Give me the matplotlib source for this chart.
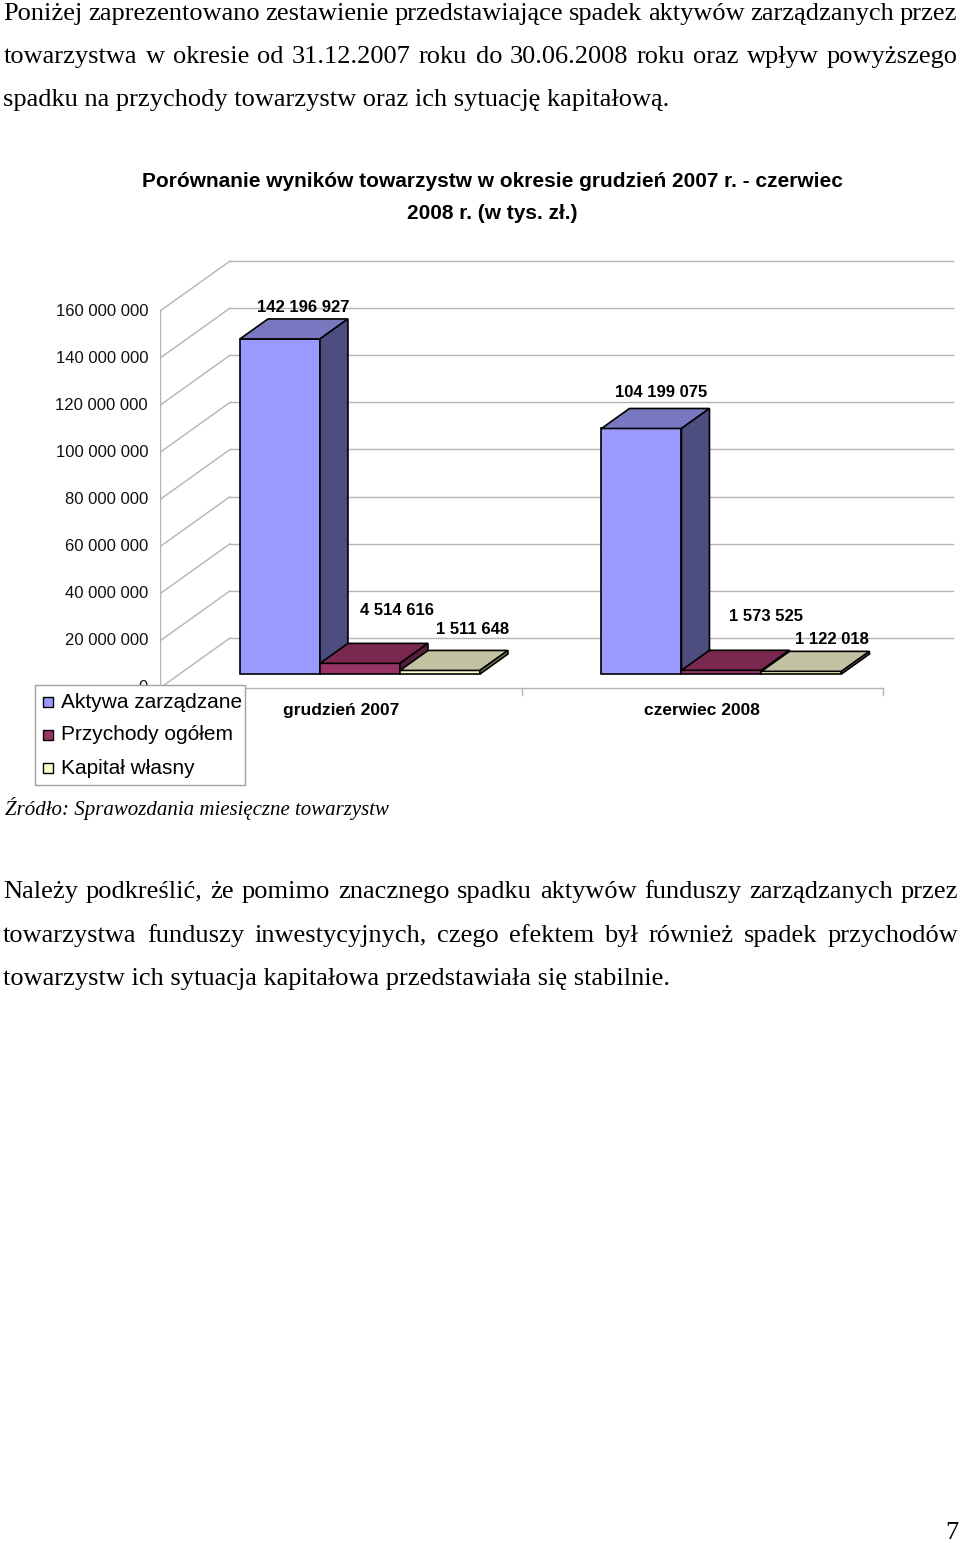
import numpy as np
import matplotlib
matplotlib.use("Agg")
from matplotlib import pyplot as plt
from matplotlib.patches import Polygon, Rectangle

# Dane
categories = ["grudzień 2007", "czerwiec 2008"]
series_names = ["Aktywa zarządzane", "Przychody ogółem", "Kapitał własny"]
aktywa = [142196927, 104199075]
przychody = [4514616, 1573525]
kapital = [1511648, 1122018]
y_ticks = [0, 20000000, 40000000, 60000000, 80000000,
           100000000, 120000000, 140000000, 160000000]
y_tick_labels = ["0", "20 000 000", "40 000 000", "60 000 000", "80 000 000",
                 "100 000 000", "120 000 000", "140 000 000", "160 000 000"]

# Kolory (przód, góra, bok)
front_colors = ["#9999FF", "#993366", "#FFFFCC"]
top_colors = ["#7878C0", "#7A2850", "#C2C1A2"]
side_colors = ["#4D4D80", "#5A1E3C", "#808066"]

# Przesunięcia etykiet (piksele)
label_offsets = [[(-4.5, 11.5), (9.5, 32.4), (4.5, 21.4)],
                 [(-8, 15.5), (16.5, 33.8), (2.5, 11.9)]]

W, H = 960, 1543
SANS = "Liberation Sans"
SERIF = "Liberation Serif"
GRID = "#B3B3B3"


def main():
    fig = plt.figure(figsize=(W / 100, H / 100), dpi=100)

    # Geometria wykresu
    px_cat = 361.5
    k = 377 / 160e6
    a_l, a_r, a_t, a_b = 160, 960, 240, 700
    y0_px = 688
    ax = fig.add_axes([a_l / W, 1 - a_b / H, (a_r - a_l) / W, (a_b - a_t) / H])
    ax.set_xlim(0, (a_r - a_l) / px_cat)
    ax.set_ylim(-(a_b - y0_px) / k, 160e6 + (311 - a_t) / k)
    ax.axis("off")

    DX = 70 / px_cat
    DY = 50 / k

    # Ściany i siatka
    for v, lab in zip(y_ticks, y_tick_labels):
        ax.plot([0, DX], [v, v + DY], color=GRID, lw=1, zorder=1)
        ax.plot([DX, 2 + DX], [v + DY, v + DY], color=GRID, lw=1, zorder=1)
        ax.plot([-7 / px_cat, 0], [v, v], color=GRID, lw=1, zorder=1)
        ax.text(-12 / px_cat, v, lab, ha="right", va="center",
                fontsize=12, family=SANS, color="#111111")
    ax.plot([0, 0], [0, y_ticks[-1]], color=GRID, lw=1, zorder=1)
    ax.plot([0, 2], [0, 0], color=GRID, lw=1, zorder=1)
    for c in range(3):
        ax.plot([c, c], [0, -7 / k], color=GRID, lw=1, zorder=1)

    # Słupki 3D
    gap = 0.167
    w = 80 / px_cat
    f0, f1 = 0.28, 0.68
    ddx, ddy = (f1 - f0) * DX, (f1 - f0) * DY
    data = [aktywa, przychody, kapital]
    for c in range(len(categories)):
        for i, vals in enumerate(data):
            x0 = c + gap + i * w + f0 * DX
            yb = f0 * DY
            x1 = x0 + w
            yt = yb + vals[c]
            ax.add_patch(Rectangle((x0, yb), w, vals[c], facecolor=front_colors[i],
                                   edgecolor="black", lw=1.2, zorder=3))
            ax.add_patch(Polygon([(x0, yt), (x1, yt), (x1 + ddx, yt + ddy), (x0 + ddx, yt + ddy)],
                                 closed=True, facecolor=top_colors[i],
                                 edgecolor="black", lw=1.2, zorder=3))
            ax.add_patch(Polygon([(x1, yb), (x1 + ddx, yb + ddy), (x1 + ddx, yt + ddy), (x1, yt)],
                                 closed=True, facecolor=side_colors[i],
                                 edgecolor="black", lw=1.2, zorder=3))
            ax.annotate("{:,}".format(vals[c]).replace(",", " "),
                        (x0 + ddx + w / 2, yt + ddy), xytext=label_offsets[c][i],
                        textcoords="offset pixels", ha="center", va="center",
                        fontsize=12, fontweight="bold", family=SANS, zorder=5)
        ax.text(c + 0.5, -(711 - y0_px) / k, categories[c], ha="center", va="center",
                fontsize=12.5, fontweight="bold", family=SANS)

    # Strona (tekst i legenda)
    pg = fig.add_axes([0, 0, 1, 1])
    pg.set_xlim(0, W)
    pg.set_ylim(H, 0)
    pg.axis("off")
    pg.patch.set_alpha(0)

    renderer = fig.canvas.get_renderer()

    def line(text, y, x0, x1=None, **kw):
        words = text.split()
        if x1 is None:
            pg.text(x0, y, text, va="baseline", ha="left", **kw)
            return
        ts = [pg.text(0, y, wd, va="baseline", ha="left", **kw) for wd in words]
        widths = [t.get_window_extent(renderer).width for t in ts]
        space = (x1 - x0 - sum(widths)) / (len(words) - 1)
        x = x0
        for t, wd in zip(ts, widths):
            t.set_x(x)
            x += wd + space

    body = dict(fontsize=19, family=SERIF)
    line("Poniżej zaprezentowano zestawienie przedstawiające spadek aktywów zarządzanych przez",
         20, 3, 957, **body)
    line("towarzystwa w okresie od 31.12.2007 roku do 30.06.2008 roku oraz wpływ powyższego",
         63, 4, 958, **body)
    line("spadku na przychody towarzystw oraz ich sytuację kapitałową.", 106, 3, **body)

    pg.text(492, 187, "Porównanie wyników towarzystw w okresie grudzień 2007 r. - czerwiec",
            ha="center", va="baseline", fontsize=15, fontweight="bold", family=SANS)
    pg.text(492, 219, "2008 r. (w tys. zł.)",
            ha="center", va="baseline", fontsize=15, fontweight="bold", family=SANS)

    # Legenda
    pg.add_patch(Rectangle((35, 685), 210, 100, facecolor="white", edgecolor="#A0A0A0", lw=1, zorder=6))
    for i, name in enumerate(series_names):
        yy = 702 + i * 33
        pg.add_patch(Rectangle((43, yy - 5), 10, 10, facecolor=front_colors[i],
                               edgecolor="black", lw=1, zorder=7))
        pg.text(61, yy, name, ha="left", va="center", fontsize=15, family=SANS, zorder=7)

    pg.text(5, 815, "Źródło: Sprawozdania miesięczne towarzystw",
            ha="left", va="baseline", fontsize=15, style="italic", family=SERIF)

    line("Należy podkreślić, że pomimo znacznego spadku aktywów funduszy zarządzanych przez",
         898, 3, 958, **body)
    line("towarzystwa funduszy inwestycyjnych, czego efektem był również spadek przychodów",
         942, 3, 958, **body)
    line("towarzystw ich sytuacja kapitałowa przedstawiała się stabilnie.", 985, 3, **body)

    pg.text(945, 1539, "7", ha="left", va="baseline", fontsize=19, family=SERIF)

    fig.savefig("out.png", dpi=100)


if __name__ == "__main__":
    main()
